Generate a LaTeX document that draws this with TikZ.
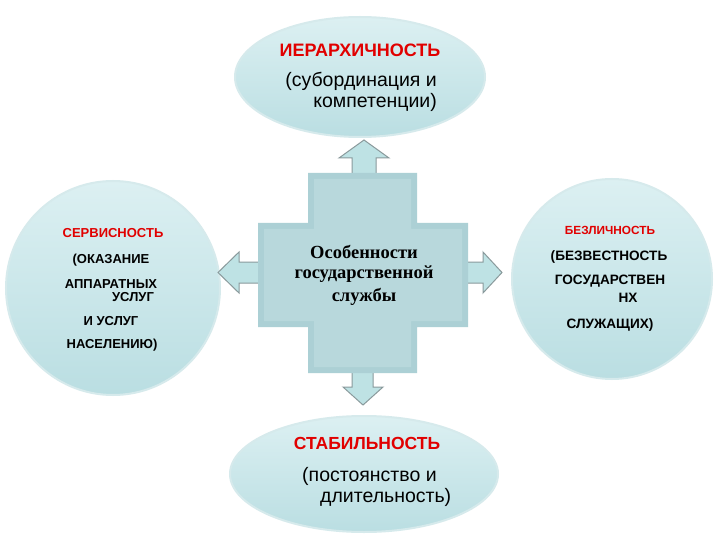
\documentclass[tikz,border=0pt]{standalone}
\usepackage{fontspec}
\setmainfont{Liberation Sans}
\newfontfamily\serifru{Liberation Serif}
\usetikzlibrary{shapes.geometric}
\definecolor{bub}{RGB}{186,222,226}
\definecolor{bubtop}{RGB}{220,240,242}
\definecolor{bubedge}{RGB}{214,234,236}
\definecolor{crossc}{RGB}{172,208,213}
\definecolor{crossin}{RGB}{184,216,220}
\definecolor{arrf}{RGB}{190,226,228}
\definecolor{arrd}{RGB}{138,154,156}
\definecolor{redt}{RGB}{225,0,0}
\tikzset{
  bubble/.style={draw=bubedge, line width=2pt, top color=bubtop, bottom color=bub, inner sep=0pt},
  blockarrow/.style={fill=arrf, draw=arrd, line width=1pt, line join=miter},
  rtitle/.style={text=redt, font=\bfseries\fontsize{#1}{#1}\selectfont, inner sep=0pt},
  btext/.style={text=black, font=\bfseries\fontsize{#1}{#1}\selectfont, inner sep=0pt},
  ntext/.style={text=black, font=\fontsize{#1}{#1}\selectfont, inner sep=0pt},
  ctext/.style={text=black, font=\serifru\bfseries\fontsize{18.5}{18.5}\selectfont, inner sep=0pt}
}
\begin{document}
\begin{tikzpicture}[x=1pt,y=-1pt]
\useasboundingbox (0,0) rectangle (720,540);
\fill[white] (0,0) rectangle (720,540);

% bubbles
\node[bubble, ellipse, minimum width=250pt, minimum height=120pt] (top) at (360,77) {};
\node[bubble, ellipse, minimum width=268pt, minimum height=116pt] (bot) at (364,474) {};
\node[bubble, circle, minimum size=214pt] (left) at (113,288) {};
\node[bubble, circle, minimum size=200pt] (right) at (612,279) {};

% block arrows
\draw[blockarrow] (352,178) -- (352,158) -- (339,158) -- (364,140) -- (389,158) -- (376,158) -- (376,178) -- cycle;
\draw[blockarrow] (264,262) -- (239,262) -- (239,252) -- (218,272.5) -- (239,293) -- (239,283) -- (264,283) -- cycle;
\draw[blockarrow] (462,262) -- (483,262) -- (483,252) -- (502,272.5) -- (483,293) -- (483,283) -- (462,283) -- cycle;
\draw[blockarrow] (352,368) -- (352,387) -- (343,387) -- (363,405) -- (383,387) -- (373,387) -- (373,368) -- cycle;

% cross
\fill[crossc] (308,173) -- (417,173) -- (417,223) -- (468,223) -- (468,327) -- (417,327) -- (417,373) -- (308,373) -- (308,327) -- (258,327) -- (258,223) -- (308,223) -- cycle;
\fill[crossin] (314,179) -- (411,179) -- (411,229) -- (462,229) -- (462,321) -- (411,321) -- (411,367) -- (314,367) -- (314,321) -- (264,321) -- (264,229) -- (314,229) -- cycle;

\node[ctext] (c1) at (364,252) {Особенности};
\node[ctext] (c2) at (364,274) {государственной};
\node[ctext] (c3) at (364,297) {службы};

% top texts
\node[rtitle=18] (t1) at (360,50) {ИЕРАРХИЧНОСТЬ};
\node[ntext=19.5, anchor=east] (t2) at (437,81) {(субординация и};
\node[ntext=19.5, anchor=east] (t3) at (437,102) {компетенции)};

% bottom texts
\node[rtitle=17.5] (b1) at (367,443) {СТАБИЛЬНОСТЬ};
\node[ntext=19.5, anchor=west] (b2) at (302,476) {(постоянство и};
\node[ntext=19.5, anchor=west] (b3) at (320,497) {длительность)};

% left texts
\node[rtitle=13] (l1) at (113,233) {СЕРВИСНОСТЬ};
\node[btext=13] (l2) at (111,260) {(ОКАЗАНИЕ};
\node[btext=13] (l3) at (111,284) {АППАРАТНЫХ};
\node[btext=13] (l4) at (133,297) {УСЛУГ};
\node[btext=13] (l5) at (111,321) {И УСЛУГ};
\node[btext=13] (l6) at (112,345) {НАСЕЛЕНИЮ)};

% right texts
\node[rtitle=11.8] (r1) at (610,230) {БЕЗЛИЧНОСТЬ};
\node[btext=13.6] (r2) at (609,257) {(БЕЗВЕСТНОСТЬ};
\node[btext=13.6] (r3) at (610,281) {ГОСУДАРСТВЕН};
\node[btext=13.6] (r4) at (628,298) {НХ};
\node[btext=13.6] (r5) at (610,325) {СЛУЖАЩИХ)};
\end{tikzpicture}
\end{document}
